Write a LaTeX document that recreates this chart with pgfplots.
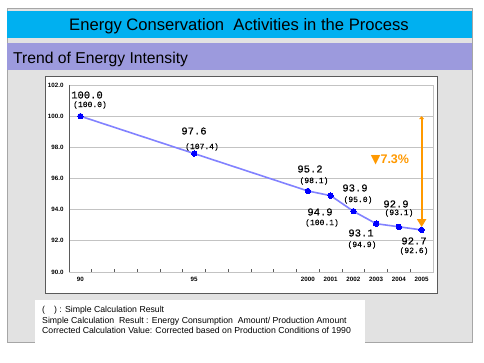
\documentclass[border=0pt]{standalone}
\usepackage{pgfplots}
\pgfplotsset{compat=1.18}
\usepackage{fontspec}
\setmainfont{Liberation Sans}
\newfontfamily\monofont[FakeBold=0.35]{Liberation Mono}
\newfontfamily\smonofont[FakeBold=0.2]{Liberation Mono}
\newfontfamily\symfont{DejaVu Sans}
\usetikzlibrary{arrows.meta}
\definecolor{titlebar}{RGB}{0,176,240}
\definecolor{subbar}{RGB}{156,154,221}
\definecolor{panel}{RGB}{226,226,226}
\definecolor{linecol}{RGB}{130,130,255}
\definecolor{ptcol}{RGB}{0,0,255}
\definecolor{orangeA}{RGB}{255,153,0}
\definecolor{axisdark}{RGB}{90,90,90}
\definecolor{gridcol}{RGB}{195,195,195}
\begin{document}
\begin{tikzpicture}[x=1pt,y=1pt]
\path[use as bounding box] (0,0) rectangle (484,363);
\fill[white] (0,0) rectangle (484,363);
% textured panel
\fill[panel] (7,21) rectangle (472,355);
\draw[gray!70, line width=0.6pt] (7,21) rectangle (472,355);
% title bars
\fill[titlebar] (7,325) rectangle (472,352);
\node[anchor=base] at (239,332) {\fontsize{16.6}{18}\selectfont Energy Conservation\ \ Activities in the Process};
\fill[subbar] (7,293) rectangle (472,320);
\node[anchor=base west, inner sep=0pt] at (13,299.5) {\fontsize{15.7}{18}\selectfont Trend of Energy Intensity};
% chart box
\fill[white] (45,70) rectangle (437,287);
\draw[axisdark, line width=0.8pt] (45,70) rectangle (437,287);
% footnote box
\fill[white] (35,20) rectangle (365,63);
\begin{axis}[
  at={(69pt,91pt)}, anchor=south west,
  width=364pt, height=187pt, scale only axis,
  xmin=-0.5, xmax=15.5, ymin=90, ymax=102,
  xtick={0,5,10,11,12,13,14,15},
  xticklabels={90,95,2000,2001,2002,2003,2004,2005},
  minor xtick={0.5,1.5,...,14.5},
  ytick={90,92,...,102},
  major tick length=0pt, minor tick length=2.5pt,
  tick align=inside, xtick pos=bottom, ytick pos=left,
  minor tick style={axisdark, line width=0.6pt},
  ymajorgrids, grid style={gridcol, line width=0.8pt},
  axis line style={gridcol, line width=0.8pt},
  /pgf/number format/assume math mode=true,
  yticklabel style={/pgf/number format/fixed, /pgf/number format/fixed zerofill, /pgf/number format/precision=1, xshift=-2pt},
  ticklabel style={font=\fontsize{6.2}{7}\selectfont\bfseries},
  xticklabel style={yshift=-1.5pt},
]
\addplot[color=linecol, line width=1.6pt, mark=*, mark size=2.7pt,
  mark options={fill=ptcol, draw=ptcol, line width=0pt}]
  coordinates {(0,100.0) (5,97.6) (10,95.2) (11,94.9) (12,93.9) (13,93.1) (14,92.9) (15,92.7)};
\draw[axisdark, line width=0.9pt] (rel axis cs:0,1) -- (rel axis cs:0,0) -- (rel axis cs:1,0);
\coordinate (arrtop) at (axis cs:15,100);
\coordinate (arrbot) at (axis cs:15,92.88);
\end{axis}
\draw[draw=orangeA, line width=1.8pt, {Triangle[width=5pt,length=3pt]}-{Triangle[width=9pt,length=8pt]}]
  (arrtop) -- (arrbot);
% data labels
\begin{scope}[every node/.style={inner sep=0pt}]
\node at (87,268) {\monofont\fontsize{10.5}{12}\selectfont 100.0};
\node at (90,258) {\smonofont\fontsize{8}{10}\selectfont (100.0)};
\node at (194,232) {\monofont\fontsize{10.5}{12}\selectfont 97.6};
\node at (202,216) {\smonofont\fontsize{8}{10}\selectfont (107.4)};
\node at (310,194) {\monofont\fontsize{10.5}{12}\selectfont 95.2};
\node at (314,182) {\smonofont\fontsize{8}{10}\selectfont (98.1)};
\node at (355,175) {\monofont\fontsize{10.5}{12}\selectfont 93.9};
\node at (358,163) {\smonofont\fontsize{8}{10}\selectfont (95.0)};
\node at (320,151) {\monofont\fontsize{10.5}{12}\selectfont 94.9};
\node at (322,140) {\smonofont\fontsize{8}{10}\selectfont (100.1)};
\node at (361,130) {\monofont\fontsize{10.5}{12}\selectfont 93.1};
\node at (362,118) {\smonofont\fontsize{8}{10}\selectfont (94.9)};
\node at (396,159) {\monofont\fontsize{10.5}{12}\selectfont 92.9};
\node at (399,150) {\smonofont\fontsize{8}{10}\selectfont (93.1)};
\node at (414,122) {\monofont\fontsize{10.5}{12}\selectfont 92.7};
\node at (414,112) {\smonofont\fontsize{8}{10}\selectfont (92.6)};
\node[text=orangeA] at (390,203) {\fontsize{12.5}{14}\selectfont\bfseries{\symfont ▼}7.3\%};
\end{scope}
% footnote
\begin{scope}[every node/.style={inner sep=0pt, anchor=base west}]
\node at (42,50) {\fontsize{8.7}{10}\selectfont (\hspace{9pt}) : Simple Calculation Result};
\node at (42,39) {\fontsize{8.7}{10}\selectfont Simple Calculation\ \ Result : Energy Consumption\ \ Amount/ Production Amount};
\node at (42,29) {\fontsize{8.7}{10}\selectfont Corrected Calculation Value: Corrected based on Production Conditions of 1990};
\end{scope}
\end{tikzpicture}
\end{document}
